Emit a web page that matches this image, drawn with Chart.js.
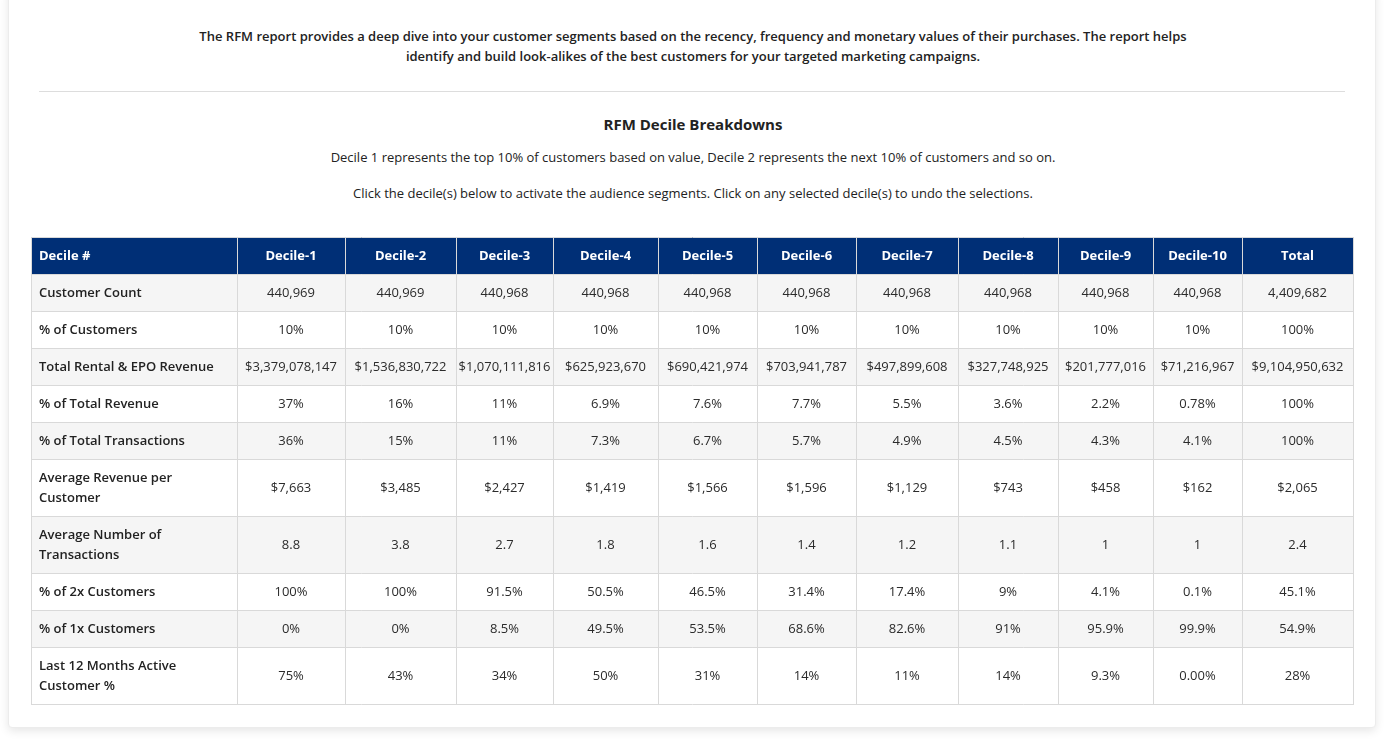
<!DOCTYPE html>
<html>
<head>
<meta charset="utf-8">
<script src="https://cdn.jsdelivr.net/npm/chart.js@4"></script>
<style>
  html, body { margin: 0; padding: 0; background: #fff; }
  body { width: 1386px; height: 748px; position: relative; overflow: hidden; font-family: "Open Sans", sans-serif; color: #222; }
  .card { position: absolute; left: 8px; top: -10px; width: 1366px; height: 736px; background: #fff; border-radius: 4px;
          border: 1px solid #ececec; box-shadow: 0 3px 10px rgba(0,0,0,0.10); }
  .intro { position: absolute; left: 0; width: 1386px; top: 26px; text-align: center; font-size: 13px; font-weight: 600; line-height: 20px; }
  .rule { position: absolute; left: 39px; width: 1306px; top: 91px; border-top: 1px solid #ddd; }
  .title { position: absolute; left: 0; width: 1386px; top: 114px; text-align: center; font-size: 15px; font-weight: bold; }
  .sub { position: absolute; left: 0; width: 1386px; text-align: center; font-size: 13px; }
  #table { position: absolute; left: 31px; top: 237px; }
</style>
</head>
<body>
<div class="card"></div>
<div class="intro">The RFM report provides a deep dive into your customer segments based on the recency, frequency and monetary values of their purchases. The report helps<br>identify and build look-alikes of the best customers for your targeted marketing campaigns.</div>
<div class="rule"></div>
<div class="title">RFM Decile Breakdowns</div>
<div class="sub" style="top:148px">Decile 1 represents the top 10% of customers based on value, Decile 2 represents the next 10% of customers and so on.</div>
<div class="sub" style="top:184px">Click the decile(s) below to activate the audience segments. Click on any selected decile(s) to undo the selections.</div>
<canvas id="table" width="1323" height="468"></canvas>
<script>
const columns = ['Decile #', 'Decile-1', 'Decile-2', 'Decile-3', 'Decile-4', 'Decile-5', 'Decile-6', 'Decile-7', 'Decile-8', 'Decile-9', 'Decile-10', 'Total'];

const rowLabels = [
  ['Customer Count'],
  ['% of Customers'],
  ['Total Rental & EPO Revenue'],
  ['% of Total Revenue'],
  ['% of Total Transactions'],
  ['Average Revenue per', 'Customer'],
  ['Average Number of', 'Transactions'],
  ['% of 2x Customers'],
  ['% of 1x Customers'],
  ['Last 12 Months Active', 'Customer %']
];

const customerCount = ['440,969', '440,969', '440,968', '440,968', '440,968', '440,968', '440,968', '440,968', '440,968', '440,968', '4,409,682'];
const pctCustomers = ['10%', '10%', '10%', '10%', '10%', '10%', '10%', '10%', '10%', '10%', '100%'];
const totalRevenue = ['$3,379,078,147', '$1,536,830,722', '$1,070,111,816', '$625,923,670', '$690,421,974', '$703,941,787', '$497,899,608', '$327,748,925', '$201,777,016', '$71,216,967', '$9,104,950,632'];
const pctRevenue = ['37%', '16%', '11%', '6.9%', '7.6%', '7.7%', '5.5%', '3.6%', '2.2%', '0.78%', '100%'];
const pctTransactions = ['36%', '15%', '11%', '7.3%', '6.7%', '5.7%', '4.9%', '4.5%', '4.3%', '4.1%', '100%'];
const avgRevenue = ['$7,663', '$3,485', '$2,427', '$1,419', '$1,566', '$1,596', '$1,129', '$743', '$458', '$162', '$2,065'];
const avgTransactions = ['8.8', '3.8', '2.7', '1.8', '1.6', '1.4', '1.2', '1.1', '1', '1', '2.4'];
const pct2x = ['100%', '100%', '91.5%', '50.5%', '46.5%', '31.4%', '17.4%', '9%', '4.1%', '0.1%', '45.1%'];
const pct1x = ['0%', '0%', '8.5%', '49.5%', '53.5%', '68.6%', '82.6%', '91%', '95.9%', '99.9%', '54.9%'];
const activePct = ['75%', '43%', '34%', '50%', '31%', '14%', '11%', '14%', '9.3%', '0.00%', '28%'];

const rowValues = [customerCount, pctCustomers, totalRevenue, pctRevenue, pctTransactions, avgRevenue, avgTransactions, pct2x, pct1x, activePct];

// layout (px units on the linear scales)
const colWidths = [206, 108, 111, 97, 105, 99, 99, 102, 100, 95, 89, 111];
const headerHeight = 37;
const lineRowHeight = 37;
const twoLineRowHeight = 57;

const rowHeights = [headerHeight].concat(rowLabels.map(l => l.length > 1 ? twoLineRowHeight : lineRowHeight));
const colEdges = [0];
colWidths.forEach(w => colEdges.push(colEdges[colEdges.length - 1] + w));
const rowEdges = [0];
rowHeights.forEach(h => rowEdges.push(rowEdges[rowEdges.length - 1] + h));

const FONT = '"Open Sans", sans-serif';

const tablePlugin = {
  id: 'tableCells',
  afterDatasetsDraw(chart) {
    const ctx = chart.ctx;
    const xs = chart.scales.x, ys = chart.scales.y;
    const X = v => xs.getPixelForValue(v);
    const Y = v => ys.getPixelForValue(v);
    const right = X(colEdges[colEdges.length - 1]);
    ctx.save();

    // backgrounds
    for (let r = 0; r < rowHeights.length; r++) {
      ctx.fillStyle = r === 0 ? '#002f76' : (r % 2 === 1 ? '#f5f5f5' : '#ffffff');
      ctx.fillRect(X(0), Y(rowEdges[r]), right - X(0), Y(rowEdges[r + 1]) - Y(rowEdges[r]));
    }

    // grid lines
    ctx.lineWidth = 1;
    ctx.strokeStyle = '#d9d9d9';
    rowEdges.forEach(e => {
      const y = Math.round(Y(e)) + 0.5;
      ctx.beginPath();
      ctx.moveTo(X(0), y);
      ctx.lineTo(right + 1, y);
      ctx.stroke();
    });
    colEdges.forEach(e => {
      const x = Math.round(X(e)) + 0.5;
      ctx.beginPath();
      ctx.moveTo(x, Y(0));
      ctx.lineTo(x, Y(rowEdges[rowEdges.length - 1]) + 1);
      ctx.stroke();
    });

    // header text
    ctx.textBaseline = 'middle';
    ctx.font = 'bold 13px ' + FONT;
    ctx.fillStyle = '#ffffff';
    const hy = (Y(rowEdges[0]) + Y(rowEdges[1])) / 2 + 1;
    columns.forEach((c, i) => {
      if (i === 0) {
        ctx.textAlign = 'left';
        ctx.fillText(c, X(colEdges[0]) + 8, hy);
      } else {
        ctx.textAlign = 'center';
        ctx.fillText(c, (X(colEdges[i]) + X(colEdges[i + 1])) / 2, hy);
      }
    });

    // body
    rowLabels.forEach((lines, r) => {
      const top = Y(rowEdges[r + 1]), bot = Y(rowEdges[r + 2]);
      const mid = (top + bot) / 2 + 1;
      ctx.fillStyle = '#222222';
      ctx.font = '600 13px ' + FONT;
      ctx.textAlign = 'left';
      lines.forEach((ln, k) => {
        ctx.fillText(ln, X(colEdges[0]) + 8, mid + (k - (lines.length - 1) / 2) * 20);
      });
      ctx.fillStyle = '#2b2b2b';
      ctx.font = '13px ' + FONT;
      ctx.textAlign = 'center';
      rowValues[r].forEach((v, c) => {
        ctx.fillText(v, (X(colEdges[c + 1]) + X(colEdges[c + 2])) / 2, mid);
      });
    });
    ctx.restore();
  }
};

new Chart(document.getElementById('table'), {
  type: 'bar',
  data: { labels: columns, datasets: [] },
  options: {
    responsive: false,
    animation: false,
    devicePixelRatio: 1,
    layout: { padding: { left: 0, top: 0, right: 1, bottom: 1 } },
    plugins: { legend: { display: false }, tooltip: { enabled: false } },
    scales: {
      x: { type: 'linear', display: false, offset: false, min: 0, max: colEdges[colEdges.length - 1] },
      y: { type: 'linear', display: false, offset: false, min: 0, max: rowEdges[rowEdges.length - 1], reverse: true }
    }
  },
  plugins: [tablePlugin]
});
</script>
</body>
</html>
